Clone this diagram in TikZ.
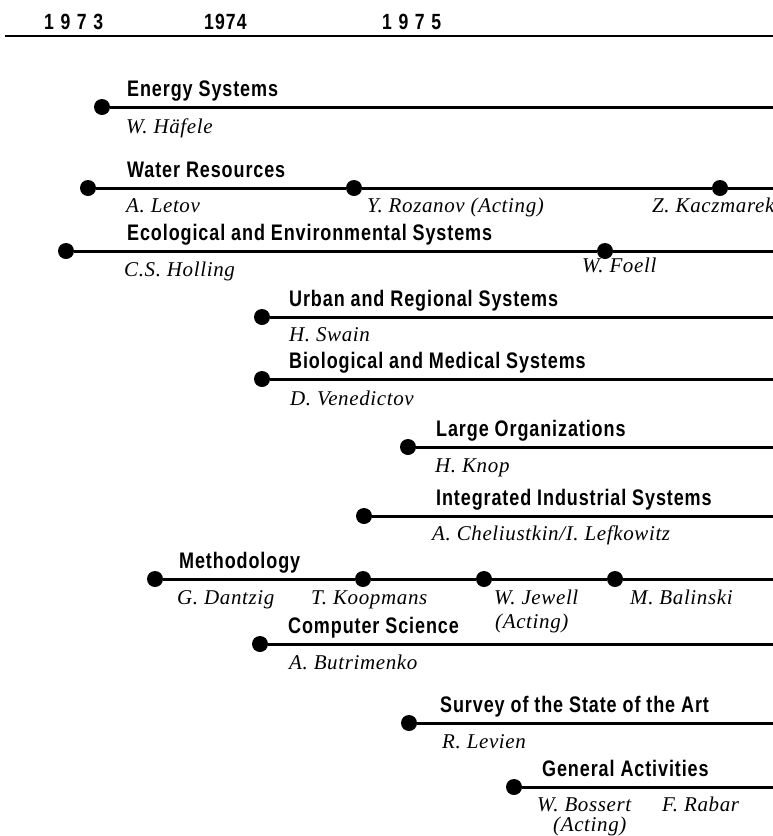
\documentclass[tikz,border=0pt]{standalone}
\usepackage{fontspec}
\setmainfont{Liberation Serif}
\newfontfamily\ttlfam[FakeStretch=0.8,LetterSpace=4]{Liberation Sans}
\newfontfamily\yrfam[FakeStretch=0.8,LetterSpace=30]{Liberation Sans}
\newfontfamily\yrfamb[FakeStretch=0.8,LetterSpace=5]{Liberation Sans}
\newfontfamily\whofam[LetterSpace=3]{Liberation Serif}
\begin{document}
\begin{tikzpicture}[x=1pt,y=-1pt,
  dot/.style={circle,fill=black,inner sep=0pt,minimum size=16pt},
  bar/.style={line width=3pt},
  ttl/.style={anchor=base west,inner sep=0pt,font=\ttlfam\bfseries\fontsize{22.5}{24}\selectfont},
  who/.style={anchor=base west,inner sep=0pt,font=\whofam\itshape\fontsize{21}{23}\selectfont},
  yr/.style={anchor=base west,inner sep=0pt,font=\yrfam\bfseries\fontsize{22}{24}\selectfont}]
\useasboundingbox (0,0) rectangle (773,836);
% header
\node[yr] (y73) at (44,29) {1973};
\node[yr,font=\yrfamb\bfseries\fontsize{22}{24}\selectfont] (y74) at (204,29) {1974};
\node[yr] (y75) at (382,29) {1975};
\coordinate (hl) at (5,36);
\coordinate (hr) at (773,36);
\draw[line width=1.2pt] (hl) -- (hr);
% Energy
\node[dot] (e1) at (102,107) {};
\coordinate (ee) at (773,107);
\draw[bar] (e1) -- (ee);
\node[ttl] (et) at (127,96) {Energy Systems};
\node[who] (en1) at (126,133) {W. Häfele};
% Water
\node[dot] (w1) at (88,188) {};
\node[dot] (w2) at (354,188) {};
\node[dot] (w3) at (720,188) {};
\coordinate (we) at (773,188);
\draw[bar] (w1) -- (w2) -- (w3) -- (we);
\node[ttl] (wt) at (127,177) {Water Resources};
\node[who] (wn1) at (126,212) {A. Letov};
\node[who] (wn2) at (367,212) {Y. Rozanov (Acting)};
\node[who] (wn3) at (652,212) {Z. Kaczmarek};
% Ecological
\node[dot] (c1) at (66,251) {};
\node[dot] (c2) at (605,251) {};
\coordinate (ce) at (773,251);
\draw[bar] (c1) -- (c2) -- (ce);
\node[ttl] (ct) at (127,240) {Ecological and Environmental Systems};
\node[who] (cn1) at (124,276) {C.S. Holling};
\node[who] (cn2) at (582,272) {W. Foell};
% Urban
\node[dot] (u1) at (262,317) {};
\coordinate (ue) at (773,317);
\draw[bar] (u1) -- (ue);
\node[ttl] (ut) at (289,306) {Urban and Regional Systems};
\node[who] (un1) at (289,341) {H. Swain};
% Bio
\node[dot] (b1) at (262,379) {};
\coordinate (be) at (773,379);
\draw[bar] (b1) -- (be);
\node[ttl] (bt) at (289,368) {Biological and Medical Systems};
\node[who] (bn1) at (290,405) {D. Venedictov};
% Large Organizations
\node[dot] (l1) at (408,447) {};
\coordinate (le) at (773,447);
\draw[bar] (l1) -- (le);
\node[ttl] (lt) at (436,436) {Large Organizations};
\node[who] (ln1) at (435,472) {H. Knop};
% Integrated
\node[dot] (i1) at (364,516) {};
\coordinate (ie) at (773,516);
\draw[bar] (i1) -- (ie);
\node[ttl] (it) at (436,505) {Integrated Industrial Systems};
\node[who] (in1) at (432,540) {A. Cheliustkin/I. Lefkowitz};
% Methodology
\node[dot] (m1) at (155,579) {};
\node[dot] (m2) at (363,579) {};
\node[dot] (m3) at (484,579) {};
\node[dot] (m4) at (615,579) {};
\coordinate (me) at (773,579);
\draw[bar] (m1) -- (m2) -- (m3) -- (m4) -- (me);
\node[ttl] (mt) at (179,568) {Methodology};
\node[who] (mn1) at (177,604) {G. Dantzig};
\node[who] (mn2) at (311,604) {T. Koopmans};
\node[who] (mn3) at (494,604) {W. Jewell};
\node[who] (mn3b) at (495,628) {(Acting)};
\node[who] (mn4) at (630,604) {M. Balinski};
% Computer Science
\node[dot] (s1) at (260,644) {};
\coordinate (se) at (773,644);
\draw[bar] (s1) -- (se);
\node[ttl] (st) at (288,633) {Computer Science};
\node[who] (sn1) at (289,669) {A. Butrimenko};
% Survey
\node[dot] (v1) at (409,723) {};
\coordinate (ve) at (773,723);
\draw[bar] (v1) -- (ve);
\node[ttl] (vt) at (440,712) {Survey of the State of the Art};
\node[who] (vn1) at (442,748) {R. Levien};
% General
\node[dot] (g1) at (514,787) {};
\coordinate (ge) at (773,787);
\draw[bar] (g1) -- (ge);
\node[ttl] (gt) at (542,776) {General Activities};
\node[who] (gn1) at (537,811) {W. Bossert};
\node[who] (gn1b) at (553,831) {(Acting)};
\node[who] (gn2) at (662,811) {F. Rabar};
\end{tikzpicture}
\end{document}
